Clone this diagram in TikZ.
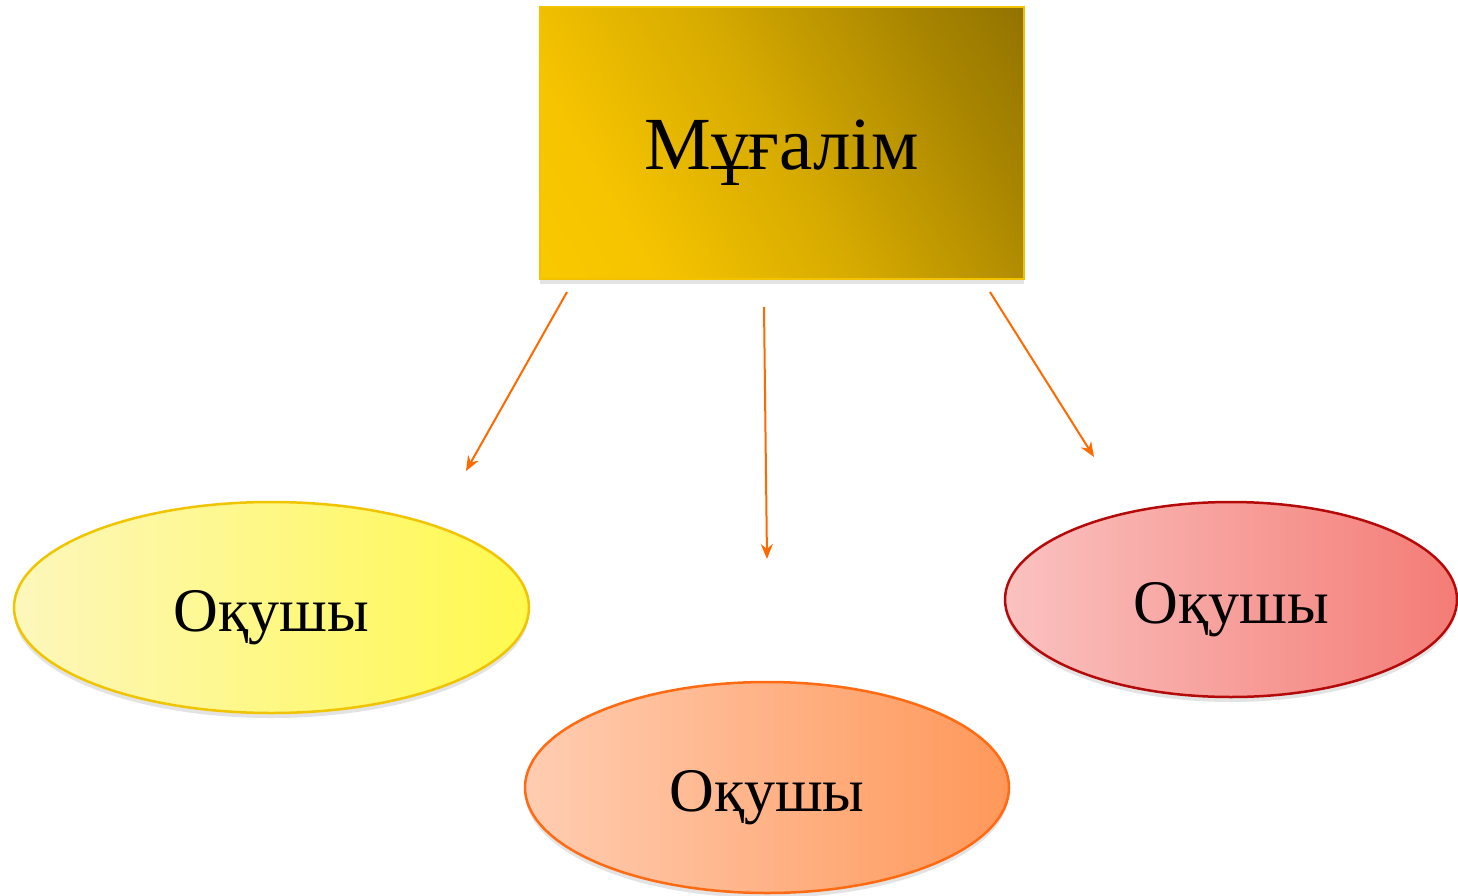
\documentclass[tikz,border=0pt]{standalone}
\usepackage{fontspec}
\setmainfont{Liberation Serif}
\usetikzlibrary{shapes.geometric,arrows.meta,shadows}
\definecolor{rectborder}{HTML}{F2C200}
\definecolor{ylight}{HTML}{FDF7BC}
\definecolor{ydark}{HTML}{FFF94E}
\definecolor{yborder}{HTML}{F0C400}
\definecolor{olight}{HTML}{FFCDB2}
\definecolor{odark}{HTML}{FF985A}
\definecolor{oborder}{HTML}{FF6A12}
\definecolor{plight}{HTML}{FAC2C0}
\definecolor{pdark}{HTML}{F47C76}
\definecolor{pborder}{HTML}{B40A0A}
\definecolor{arrowc}{HTML}{FF6A00}
\pgfdeclarehorizontalshading{rectgrad}{100bp}{%
  color(0bp)=(rgb,255:red,252;green,206;blue,0);
  color(28bp)=(rgb,255:red,246;green,196;blue,0);
  color(50bp)=(rgb,255:red,214;green,170;blue,0);
  color(72bp)=(rgb,255:red,168;green,133;blue,0);
  color(100bp)=(rgb,255:red,118;green,92;blue,0)}
\tikzset{
  shadowed/.style={drop shadow={opacity=0.22,shadow xshift=0pt,shadow yshift=-5pt}},
  teacher/.style={rectangle,draw=rectborder,line width=2.2pt,minimum width=484pt,minimum height=272pt,
    inner sep=0pt,shading=rectgrad,shading angle=30,shadowed,
    text height=54pt,text depth=0pt,font=\fontsize{75}{90}\selectfont},
  pupil/.style={ellipse,line width=2.5pt,inner sep=0pt,shadowed,text height=47pt,text depth=0pt,
    font=\fontsize{62}{72}\selectfont},
  link/.style={draw=arrowc,line width=2pt,-{Stealth[length=15pt,width=12pt,inset=5pt]}}
}
\begin{document}
\begin{tikzpicture}[x=1pt,y=-1pt]
\useasboundingbox (0,0) rectangle (1458,896);
\node[teacher] (t) at (782,143) {Мұғалім};
\node[pupil,draw=yborder,left color=ylight,right color=ydark,minimum width=515pt,minimum height=211pt] (p1) at (271.5,607.5) {Оқушы};
\node[pupil,draw=oborder,left color=olight,right color=odark,minimum width=484pt,minimum height=211pt] (p2) at (767,787.5) {Оқушы};
\node[pupil,draw=pborder,left color=plight,right color=pdark,minimum width=452pt,minimum height=195pt] (p3) at (1231,599.5) {Оқушы};
\coordinate (a1s) at (567,292);
\coordinate (a1e) at (466,471);
\coordinate (a2s) at (764,307);
\coordinate (a2e) at (767,559);
\coordinate (a3s) at (990,292);
\coordinate (a3e) at (1094,457);
\draw[link] (a1s) -- (a1e);
\draw[link] (a2s) -- (a2e);
\draw[link] (a3s) -- (a3e);
\end{tikzpicture}
\end{document}
